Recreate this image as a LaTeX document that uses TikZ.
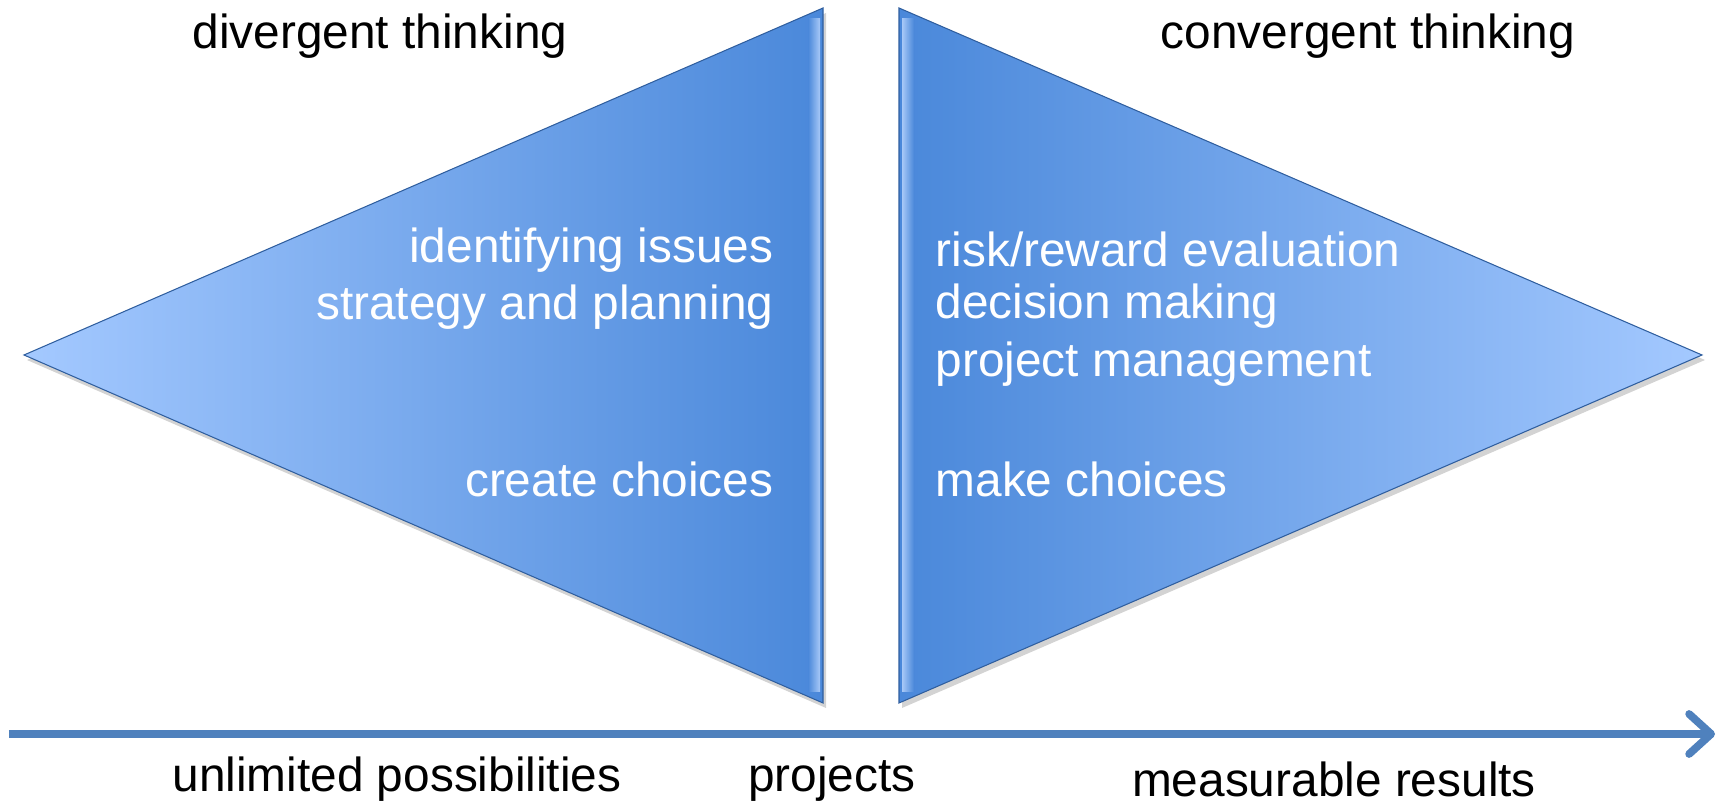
\documentclass[tikz,border=0pt]{standalone}
\usepackage{fontspec}
\setmainfont{Liberation Sans}
\usetikzlibrary{arrows.meta,shadows}

\definecolor{tipblue}{HTML}{A4C9FF}
\definecolor{deepblue}{HTML}{4A88DA}
\definecolor{axisblue}{HTML}{4F81BD}
\definecolor{edgeblue}{HTML}{2F5E9E}

\begin{document}
\begin{tikzpicture}[
    every node/.style={font=\fontsize{13.6}{16.3}\selectfont},
    wedge/.style={draw=edgeblue, line width=0.3pt,
      drop shadow={opacity=0.35, shadow xshift=0.03, shadow yshift=-0.05}},
    inner/.style={text=white, inner sep=0pt},
  ]
    \useasboundingbox (0, 0) rectangle (17.19, 8.02);

    % the two wedges
    \path[wedge, left color=tipblue, right color=deepblue]
      (0.24, 4.47) -- (8.23, 7.94) -- (8.23, 0.99) -- cycle;
    \path[wedge, left color=deepblue, right color=tipblue]
      (8.99, 7.94) -- (17.02, 4.47) -- (8.99, 0.99) -- cycle;

    % bevel on the flat sides
    \shade[left color=deepblue, right color=tipblue!70!white, opacity=0.8]
      (8.08, 7.83) rectangle (8.20, 1.10);
    \shade[left color=tipblue!70!white, right color=deepblue, opacity=0.8]
      (9.02, 7.83) rectangle (9.14, 1.10);

    \node (dvg) at (3.80, 7.66) {divergent thinking};
    \node (cvg) at (13.68, 7.66) {convergent thinking};

    \node[inner, anchor=east] (idf)    at (7.74, 5.52) {identifying issues};
    \node[inner, anchor=east] (strat)  at (7.74, 4.95) {strategy and planning};
    \node[inner, anchor=east] (create) at (7.74, 3.23) {create choices};

    \node[inner, anchor=west] (risk)   at (9.35, 5.53) {risk/reward evaluation};
    \node[inner, anchor=west] (decide) at (9.35, 4.96) {decision making};
    \node[inner, anchor=west] (pm)     at (9.35, 4.38) {project management};
    \node[inner, anchor=west] (make)   at (9.35, 3.23) {make choices};

    % axis along the bottom
    \coordinate (start) at (0.09, 0.68);
    \coordinate (stop) at (17.15, 0.68);
    \draw[axisblue, line width=2.2pt,
      -{Straight Barb[round, length=0.22cm, width=0.4cm]}] (start) -- (stop);

    \node (unlim) at (3.97, 0.23) {unlimited possibilities};
    \node (proj)  at (8.32, 0.23) {projects};
    \node (meas)  at (13.34, 0.23) {measurable results};

\end{tikzpicture}
\end{document}
